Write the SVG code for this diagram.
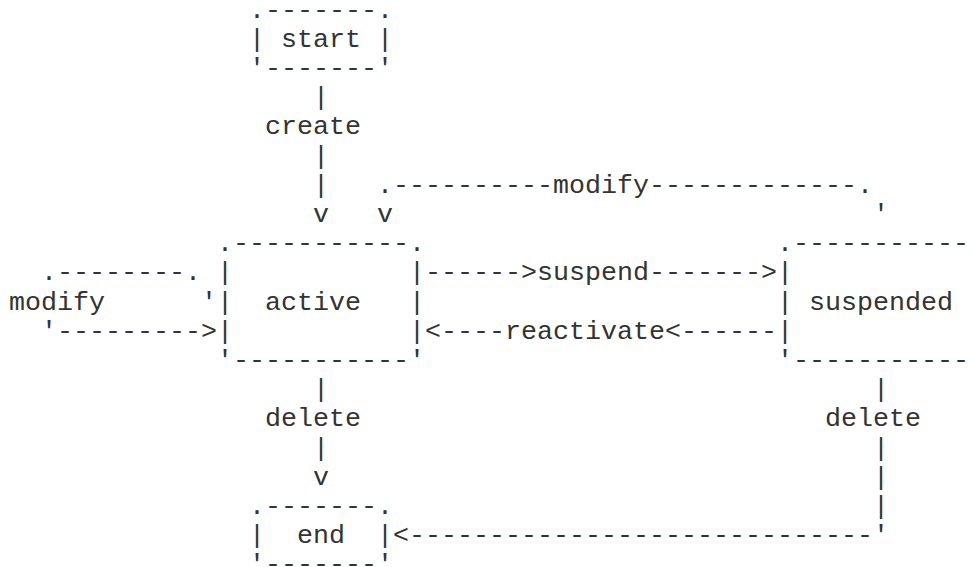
<svg xmlns="http://www.w3.org/2000/svg" width="972" height="567" viewBox="0 0 972 567">
  <style>
    /* monospace grid: 16px per column, 29.2px per row */
    text { font-family: "Liberation Mono", "Courier New", monospace; font-size: 26.667px; fill: #333; white-space: pre; }
  </style>
  <rect width="972" height="567" fill="#fff"/>

  <g id="node-start">
    <text x="249" y="17.5">.-------.</text>
    <text x="249" y="46.7" xml:space="preserve">| start |</text>
    <text x="249" y="75.9">'-------'</text>
  </g>

  <g id="node-active">
    <text x="217" y="251.1">.-----------.</text>
    <text x="217" y="280.3">|</text>
    <text x="409" y="280.3">|</text>
    <text x="217" y="309.5" xml:space="preserve">|  active   |</text>
    <text x="217" y="338.7">|</text>
    <text x="409" y="338.7">|</text>
    <text x="217" y="367.9">'-----------'</text>
  </g>

  <g id="node-suspended">
    <text x="777" y="251.1">.-----------</text>
    <text x="777" y="280.3">|</text>
    <text x="777" y="309.5" xml:space="preserve">| suspended</text>
    <text x="777" y="338.7">|</text>
    <text x="777" y="367.9">'-----------</text>
  </g>

  <g id="node-end">
    <text x="249" y="513.9">.-------.</text>
    <text x="249" y="543.1" xml:space="preserve">|  end  |</text>
    <text x="249" y="572.3">'-------'</text>
  </g>

  <g id="connectors">
    <!-- start -> active -->
    <text x="313" y="105.1">|</text>
    <text x="265" y="134.3">create</text>
    <text x="313" y="163.5">|</text>
    <text x="313" y="192.7">|</text>
    <text x="313" y="221.9">v</text>

    <!-- suspended -> active (modify) -->
    <text x="377" y="192.7">.----------modify-------------.</text>
    <text x="377" y="221.9">v</text>
    <text x="873" y="221.9">'</text>

    <!-- active self loop (modify) -->
    <text x="41" y="280.3">.--------.</text>
    <text x="9" y="309.5">modify</text>
    <text x="201" y="309.5">'</text>
    <text x="41" y="338.7">'---------&gt;</text>

    <!-- active <-> suspended -->
    <text x="425" y="280.3">------&gt;suspend-------&gt;</text>
    <text x="425" y="338.7">&lt;----reactivate&lt;------</text>

    <!-- active -> end -->
    <text x="313" y="397.1">|</text>
    <text x="265" y="426.3">delete</text>
    <text x="313" y="455.5">|</text>
    <text x="313" y="484.7">v</text>

    <!-- suspended -> end -->
    <text x="873" y="397.1">|</text>
    <text x="825" y="426.3">delete</text>
    <text x="873" y="455.5">|</text>
    <text x="873" y="484.7">|</text>
    <text x="873" y="513.9">|</text>
    <text x="393" y="543.1">&lt;-----------------------------'</text>
  </g>
</svg>
